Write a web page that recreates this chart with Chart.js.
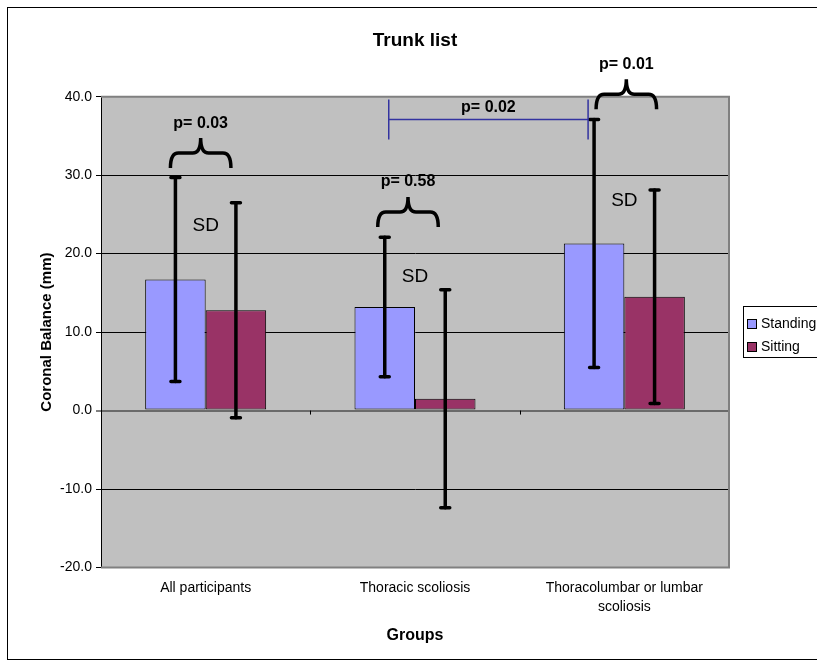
<!DOCTYPE html>
<html>
<head>
<meta charset="utf-8">
<script src="https://cdn.jsdelivr.net/npm/chart.js@4.4.0/dist/chart.umd.min.js"></script>
<style>
  html, body { margin: 0; padding: 0; background: #fff; }
  #wrap { width: 817px; height: 666px; }
</style>
</head>
<body>
<div id="wrap"><canvas id="chart"></canvas></div>
<script>
const categories = ["All participants", "Thoracic scoliosis", ["Thoracolumbar or lumbar", "scoliosis"]];
const standing = [16.7, 13.2, 21.3];
const standingSD = [13.0, 8.9, 15.8];
const sitting = [12.8, 1.5, 14.5];
const sittingSD = [13.7, 13.9, 13.6];
const yTicks = [-20, -10, 0, 10, 20, 30, 40];

// p-values between standing and sitting, brace feet at this y value
const braceLabels = ["p= 0.03", "p= 0.58", "p= 0.01"];
const braceFeet = [30.9, 23.4, 38.4];
// p-value between thoracic and thoracolumbar standing
const betweenLabel = "p= 0.02";
const betweenY = 37.1;
// "SD" labels per group
const sdY = [23.6, 17.0, 26.8];

const FONT = "'Liberation Sans', Arial, sans-serif";
const braceShift = [-5, -7, 2]; // px nudge of each brace

const extras = {
  id: "extras",
  beforeDraw(chart) {
    const { ctx, chartArea: a } = chart;
    ctx.save();
    ctx.strokeStyle = "#000";
    ctx.lineWidth = 1;
    ctx.strokeRect(7.5, 7.5, 830, 652);
    ctx.fillStyle = "#c0c0c0";
    ctx.fillRect(a.left, a.top, a.right - a.left, a.bottom - a.top);
    ctx.restore();
  },
  afterDatasetsDraw(chart) {
    const { ctx, chartArea: a } = chart;
    const y = chart.scales.y;
    const x = chart.scales.x;
    const y0 = y.getPixelForValue(0);
    ctx.save();

    // small category ticks on the zero line
    ctx.strokeStyle = "#000";
    ctx.lineWidth = 1;
    for (let i = 1; i < categories.length; i++) {
      const px = Math.round((x.getPixelForTick(i - 1) + x.getPixelForTick(i)) / 2) + 0.5;
      ctx.beginPath();
      ctx.moveTo(px, y0);
      ctx.lineTo(px, y0 + 4);
      ctx.stroke();
    }

    // plot frame (grey)
    ctx.strokeStyle = "#808080";
    ctx.lineWidth = 2;
    ctx.beginPath();
    ctx.moveTo(a.left, a.top);
    ctx.lineTo(a.right, a.top);
    ctx.lineTo(a.right, a.bottom);
    ctx.lineTo(a.left, a.bottom);
    ctx.stroke();

    // error bars
    const sds = [standingSD, sittingSD];
    ctx.strokeStyle = "#000";
    ctx.lineCap = "round";
    chart.data.datasets.forEach((ds, d) => {
      const meta = chart.getDatasetMeta(d);
      meta.data.forEach((bar, i) => {
        const m = ds.data[i], s = sds[d][i];
        const top = y.getPixelForValue(m + s);
        const bot = y.getPixelForValue(m - s);
        ctx.lineWidth = 3.5;
        ctx.beginPath();
        ctx.moveTo(bar.x, top);
        ctx.lineTo(bar.x, bot);
        ctx.stroke();
        ctx.beginPath();
        ctx.moveTo(bar.x - 4.5, top);
        ctx.lineTo(bar.x + 4.5, top);
        ctx.moveTo(bar.x - 4.5, bot);
        ctx.lineTo(bar.x + 4.5, bot);
        ctx.stroke();
      });
    });

    // braces with p-values
    const st = chart.getDatasetMeta(0).data;
    const si = chart.getDatasetMeta(1).data;
    ctx.lineCap = "butt";
    ctx.lineWidth = 3.5;
    braceLabels.forEach((lab, i) => {
      const x1 = st[i].x + braceShift[i], x2 = si[i].x + braceShift[i];
      const xm = (x1 + x2) / 2;
      const feet = y.getPixelForValue(braceFeet[i]);
      const mid = feet - 15, tip = feet - 30, r = 8;
      ctx.beginPath();
      ctx.moveTo(x1, feet);
      ctx.quadraticCurveTo(x1, mid, x1 + r, mid);
      ctx.lineTo(xm - r, mid);
      ctx.quadraticCurveTo(xm, mid, xm, tip);
      ctx.quadraticCurveTo(xm, mid, xm + r, mid);
      ctx.lineTo(x2 - r, mid);
      ctx.quadraticCurveTo(x2, mid, x2, feet);
      ctx.stroke();
      ctx.fillStyle = "#000";
      ctx.font = "bold 16px " + FONT;
      ctx.textAlign = "center";
      ctx.textBaseline = "middle";
      ctx.fillText(lab, xm, tip - 15);
    });

    // thoracic vs thoracolumbar bracket
    const bx1 = st[1].x + 4, bx2 = st[2].x - 6;
    const by = y.getPixelForValue(betweenY);
    ctx.strokeStyle = "#3333a0";
    ctx.lineWidth = 1.5;
    ctx.beginPath();
    ctx.moveTo(bx1, by);
    ctx.lineTo(bx2, by);
    ctx.moveTo(bx1, by - 20);
    ctx.lineTo(bx1, by + 20);
    ctx.moveTo(bx2, by - 20);
    ctx.lineTo(bx2, by + 20);
    ctx.stroke();
    ctx.fillStyle = "#000";
    ctx.font = "bold 16px " + FONT;
    ctx.fillText(betweenLabel, (bx1 + bx2) / 2, by - 12);

    // SD labels
    ctx.font = "19px " + FONT;
    sdY.forEach((v, i) => {
      ctx.fillText("SD", x.getPixelForTick(i), y.getPixelForValue(v));
    });

    // legend
    ctx.fillStyle = "#fff";
    ctx.fillRect(743.5, 306.5, 90, 51);
    ctx.strokeStyle = "#000";
    ctx.lineWidth = 1;
    ctx.strokeRect(743.5, 306.5, 90, 51);
    ctx.font = "14px " + FONT;
    ctx.textAlign = "left";
    chart.data.datasets.forEach((ds, d) => {
      const cy = 324 + d * 23;
      ctx.fillStyle = ds.backgroundColor;
      ctx.fillRect(747.5, cy - 4.5, 9, 9);
      ctx.strokeRect(747.5, cy - 4.5, 9, 9);
      ctx.fillStyle = "#000";
      ctx.fillText(ds.label, 761, cy);
    });
    ctx.restore();
  }
};

new Chart(document.getElementById("chart"), {
  type: "bar",
  data: {
    labels: categories,
    datasets: [
      {
        label: "Standing",
        data: standing,
        backgroundColor: "#9999ff",
        borderColor: "#000",
        borderWidth: 1,
        borderSkipped: false,
        categoryPercentage: 0.578,
        barPercentage: 1.0,
      },
      {
        label: "Sitting",
        data: sitting,
        backgroundColor: "#993366",
        borderColor: "#000",
        borderWidth: 1,
        borderSkipped: false,
        categoryPercentage: 0.578,
        barPercentage: 1.0,
      },
    ],
  },
  options: {
    responsive: true,
    maintainAspectRatio: false,
    animation: false,
    layout: { padding: { left: 0, right: 88, top: 0, bottom: 0 } },
    plugins: {
      legend: { display: false },
      tooltip: { enabled: false },
      title: {
        display: true,
        text: "Trunk list",
        fullSize: false,
        color: "#000",
        font: { family: FONT, size: 19, weight: "bold" },
        padding: { top: 29.6, bottom: 44.3 },
      },
    },
    scales: {
      x: {
        afterFit: (s) => { s.height = 98.5; },
        grid: { display: false, drawTicks: false },
        border: { display: false },
        ticks: {
          color: "#000",
          font: { family: FONT, size: 14, lineHeight: 1.3 },
          padding: 12,
          maxRotation: 0,
          autoSkip: false,
        },
        title: {
          display: true,
          text: "Groups",
          color: "#000",
          font: { family: FONT, size: 16, weight: "bold" },
          padding: { top: 0, bottom: 21 },
        },
      },
      y: {
        min: -20,
        max: 40,
        afterFit: (s) => { s.width = 101; },
        afterBuildTicks: (s) => { s.ticks = yTicks.map((v) => ({ value: v })); },
        ticks: {
          color: "#000",
          font: { family: FONT, size: 14 },
          padding: 4,
          callback: (v) => Number(v).toFixed(1),
        },
        grid: {
          color: (c) => (c.tick && c.tick.value === 0 ? "#6a6a6a" : "#000"),
          lineWidth: (c) => (c.tick && c.tick.value === 0 ? 2 : 1),
          tickColor: "#000",
          tickWidth: 1,
          tickLength: 5,
        },
        border: { color: "#000", width: 1 },
        title: {
          display: true,
          text: "Coronal Balance (mm)",
          color: "#000",
          font: { family: FONT, size: 15, weight: "bold" },
          padding: { top: 38, bottom: 0 },
        },
      },
    },
  },
  plugins: [extras],
});
</script>
</body>
</html>
